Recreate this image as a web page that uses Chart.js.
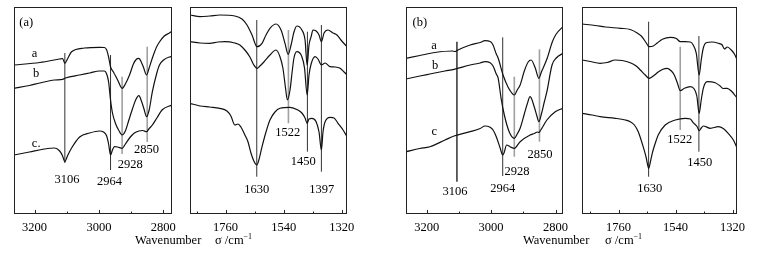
<!DOCTYPE html>
<html><head><meta charset="utf-8">
<script src="https://cdn.jsdelivr.net/npm/chart.js@4.4.1/dist/chart.umd.min.js"></script>
<style>
html,body{margin:0;padding:0;background:#fff;}
body{width:759px;height:254px;position:relative;overflow:hidden;font-family:'Liberation Serif','Times New Roman',serif;}
canvas{position:absolute;top:0;}
.t{position:absolute;font-size:12.5px;color:#000;white-space:nowrap;line-height:1;}
.t .s{font-size:8px;position:relative;top:-5px;}
</style></head><body>
<canvas id="c1"></canvas><canvas id="c2"></canvas><canvas id="c3"></canvas><canvas id="c4"></canvas>
<div class="t" style="left:135px;top:234px">Wavenumber</div>
<div class="t" style="left:215px;top:234px">σ /cm<span class="s">−1</span></div>
<div class="t" style="left:523px;top:234px">Wavenumber</div>
<div class="t" style="left:605px;top:234px">σ /cm<span class="s">−1</span></div>
<script>
// ---------- DATA (wavenumber cm-1, relative intensity, arbitrary units) ----------
// Panel (a), high-wavenumber region
const aHigh_a = [[3264,149],[3184,151.5],[3122,155],[3113,155.5],[3106,150.7],[3098,155],[3085,162.3],[3045,166],[2998,166.7],[2983,166.5],[2976,164],[2970,157],[2964,147],[2955,142],[2942,134],[2928,125.7],[2918,130],[2905,139],[2893,150],[2883,155],[2876,155.7],[2870,153],[2862,147],[2852,139],[2844,146],[2834,156],[2821,167],[2812,172],[2797,178],[2781,181],[2773,183]];
const aHigh_b = [[3264,125.7],[3216,128.5],[3184,131],[3138,134],[3113,134.7],[3104,136],[3060,139],[3029,141],[2998,143],[2983,143],[2976,140],[2970,132],[2964,114],[2958,101],[2948,90],[2939,84],[2928,79],[2918,83],[2908,93],[2896,105],[2886,114],[2876,118.3],[2868,113],[2860,105],[2852,97.3],[2844,104],[2834,122.3],[2821,140],[2812,149],[2799,154],[2781,157],[2773,157.5]];
const aHigh_c = [[3264,59],[3216,62],[3169,65],[3138,66],[3122,63],[3113,58],[3106,52.3],[3098,58],[3085,66],[3060,77],[3029,81],[2998,83],[2986,82],[2976,78],[2970,70],[2964,59],[2958,64],[2952,67.3],[2942,67],[2928,65.7],[2918,70],[2905,76],[2890,81],[2876,83],[2864,83.5],[2852,82.3],[2845,85],[2834,89],[2820,96],[2804,104],[2773,109]];
// Panel (a), low-wavenumber region
const aLow_a = [[1895,199],[1857,197.3],[1820,198],[1782,199],[1725,198],[1698,195],[1679,189],[1660,179],[1641,167.3],[1622,170.7],[1607,179],[1592,185.7],[1569,190],[1550,184],[1535,170.7],[1523,159.7],[1512,169],[1501,182],[1490,188],[1471,184],[1459,174],[1451,149],[1444,169],[1436,177.3],[1429,184],[1417,183],[1406,179],[1397,172.3],[1387,181],[1372,184],[1353,181],[1338,179],[1323,174],[1300,167.3]];
const aLow_b = [[1895,172.3],[1857,171],[1820,170.7],[1789,172],[1763,172.3],[1725,171],[1706,169],[1687,164],[1668,157],[1653,149],[1641,145.7],[1630,148],[1615,152],[1592,159],[1569,164],[1554,157.3],[1543,146],[1533,126],[1526,114],[1516,124],[1508,142],[1501,156],[1490,162.3],[1471,157.3],[1461,146],[1451,119],[1444,139],[1436,150],[1421,157.3],[1410,155],[1397,149],[1383,151],[1364,147.3],[1345,147],[1326,145.7],[1311,142],[1300,139]];
const aLow_c = [[1895,110.7],[1857,108],[1820,107],[1782,105.7],[1755,103],[1740,98],[1725,89],[1713,90],[1702,87],[1687,79],[1675,72],[1664,61],[1653,53],[1642,49],[1634,54],[1622,67.3],[1607,82],[1592,94],[1573,102],[1554,105.7],[1516,106.7],[1486,104],[1471,101],[1459,96],[1451,90.7],[1444,95],[1433,95.7],[1417,92.3],[1406,82],[1397,64],[1391,82],[1383,92.3],[1364,96.7],[1349,96],[1334,90.7],[1315,84],[1300,77.3]];
// Panel (b), high-wavenumber region
const bHigh_a = [[3264,155.7],[3221,158.5],[3174,161.5],[3121,163],[3112,162.5],[3103,164],[3065,169],[3034,171.5],[3019,173.3],[3003,172.5],[2994,169],[2984,160],[2978,155.7],[2963,139],[2948,127.3],[2938,122],[2928,119],[2919,124],[2910,129],[2897,143],[2885,152],[2876,154],[2863,146],[2852,135.7],[2844,142],[2826,155.7],[2810,172.3],[2798,180],[2777,187.3]];
const bHigh_b = [[3264,135],[3221,138],[3190,140],[3143,143],[3115,144.7],[3065,149],[3034,151],[3019,152.3],[3003,151.3],[2994,148],[2984,140],[2978,135.7],[2969,115.7],[2959,99],[2944,82.3],[2928,75.7],[2919,80],[2910,85.7],[2897,100],[2888,110],[2879,117.3],[2866,107],[2858,98],[2852,92.3],[2844,100],[2835,112],[2827,122.3],[2811,149],[2798,156],[2777,160.7]];
const bHigh_c = [[3264,62.3],[3221,65.5],[3190,67.3],[3143,74],[3115,78],[3065,82.3],[3034,85.5],[3019,88],[3003,86.7],[2994,84],[2984,77.3],[2972,66],[2964,59],[2960,61],[2952,69],[2940,67],[2928,65.7],[2910,72.3],[2879,79],[2866,80.5],[2856,82],[2852,81.5],[2846,84],[2827,94],[2801,102.3],[2777,105.7]];
// Panel (b), low-wavenumber region
const bLow_a = [[1900,190],[1850,188.5],[1811,187],[1753,185.7],[1715,184.5],[1688,181],[1669,177],[1653,171],[1642,167.3],[1626,168],[1611,171],[1591,174.7],[1560,176.7],[1537,175.5],[1522,172.3],[1503,172.3],[1483,172],[1472,169],[1460,160.7],[1449,139],[1441,154],[1433,166],[1422,171.3],[1399,172],[1375,170.7],[1360,169],[1352,165],[1340,167],[1325,164],[1313,160],[1302,154]];
const bLow_b = [[1900,154],[1869,152.5],[1831,150.7],[1804,151.5],[1773,154],[1746,153.5],[1715,151.3],[1692,148],[1676,144],[1657,139],[1642,135.7],[1626,138],[1607,142],[1591,144.5],[1572,145.7],[1556,143],[1545,139],[1533,131],[1522,123.3],[1506,125.7],[1483,127.3],[1468,125],[1458,118],[1449,100.7],[1441,114],[1433,125.7],[1418,132.3],[1387,131.3],[1368,128],[1356,125.5],[1341,125.7],[1325,123],[1302,115.7]];
const bLow_c = [[1900,100.7],[1862,99],[1831,97.3],[1773,95.7],[1734,94],[1715,92.3],[1699,89],[1684,82.3],[1665,67.3],[1653,56],[1644,45.7],[1638,51],[1630,60.7],[1618,71],[1607,79],[1580,89],[1541,94],[1503,95.7],[1483,95],[1472,91.3],[1456,87],[1449,83.3],[1441,86],[1433,88],[1406,85.7],[1375,87.3],[1356,85.5],[1337,80.7],[1317,74],[1302,65.7]];
// Peak labels and the wavenumbers where their marker lines are drawn
const aHighPeakLabels = ['3106','2964','2928','2850'];
const aHighPeakPos    = [3106, 2964, 2928, 2850];
const aLowPeakLabels  = ['1630','1522','1450','1397'];
const aLowPeakPos     = [1642, 1522, 1450, 1397];
const bHighPeakLabels = ['3106','2964','2928','2850'];
const bHighPeakPos    = [3106, 2964, 2928, 2850];
const bLowPeakLabels  = ['1630','1522','1450'];
const bLowPeakPos     = [1644, 1522, 1450];
// Axis ticks (all tick marks) and the labelled (major) ticks
const highTickValues = [3200, 3100, 3000, 2900, 2800];
const highTickLabels = [3200, 3000, 2800];
const lowTickValues  = [1870, 1760, 1650, 1540, 1430, 1320];
const lowTickLabels  = [1760, 1540, 1320];

// ---------- LAYOUT / STYLE ----------
const FONT = '12.5px "Liberation Serif", "Times New Roman", serif';
const DARK = {color:'#333', width:1};
const GRAY = {color:'#a0a0a0', width:1.6};

const panels = [
  {id:'c1', left:14, right:172, tv:highTickValues, tl:highTickLabels, xmin:2773, xmax:3264,
   curves:[aHigh_a,aHigh_b,aHigh_c], labels:aHighPeakLabels, pos:aHighPeakPos,
   lines:[{top:161,bottom:51,st:DARK,lx:3099,ly:34},{top:159,bottom:44,st:DARK,lx:2967,ly:32.3},{top:137.3,bottom:60,st:GRAY,lx:2903,ly:49},{top:167.3,bottom:72,st:GRAY,lx:2852,ly:64}],
   texts:[{t:'(a)',x:3226,y:191.3},{t:'a',x:3200,y:160},{t:'b',x:3195,y:140},{t:'c.',x:3195,y:70.7}]},
  {id:'c2', left:190, right:347, tv:lowTickValues, tl:lowTickLabels, xmin:1300, xmax:1895,
   curves:[aLow_a,aLow_b,aLow_c], labels:aLowPeakLabels, pos:aLowPeakPos,
   lines:[{top:194,bottom:37.3,st:DARK,lx:1642,ly:24},{top:184,bottom:90.7,st:GRAY,lx:1525,ly:81.3},{top:182.3,bottom:62.3,st:DARK,lx:1466,ly:52.3},{top:189,bottom:42.3,st:DARK,lx:1396,ly:24}],
   texts:[]},
  {id:'c3', left:406, right:563, tv:highTickValues, tl:highTickLabels, xmin:2777, xmax:3264,
   curves:[bHigh_a,bHigh_b,bHigh_c], labels:bHighPeakLabels, pos:bHighPeakPos,
   lines:[{top:172.3,bottom:32.3,st:{color:'#111',width:1.3},lx:3112,ly:22.3},{top:176.7,bottom:38,st:DARK,lx:2964,ly:25.7},{top:137.3,bottom:57.3,st:GRAY,lx:2920,ly:42.3},{top:164.7,bottom:72.3,st:GRAY,lx:2848,ly:59}],
   texts:[{t:'(b)',x:3221,y:191.3},{t:'a',x:3177,y:168},{t:'b',x:3174,y:148.7},{t:'c',x:3176,y:82.3}]},
  {id:'c4', left:582, right:737, tv:lowTickValues, tl:lowTickLabels, xmin:1303, xmax:1901,
   curves:[bLow_a,bLow_b,bLow_c], labels:bLowPeakLabels, pos:bLowPeakPos,
   lines:[{top:192.3,bottom:37.3,st:DARK,lx:1640,ly:25.7},{top:167.3,bottom:84,st:GRAY,lx:1524,ly:74.7},{top:178,bottom:62.3,st:DARK,lx:1447,ly:51.3}],
   texts:[]}
];

const PAD = 20, TOP = 7, BOTTOM = 214, H = 254;

function decoPlugin(p) {
  return {
    id: 'deco',
    beforeDatasetsDraw(chart) {
      const {ctx, scales:{x, y}} = chart;
      p.lines.forEach((l, i) => {
        ctx.save();
        ctx.strokeStyle = l.st.color; ctx.lineWidth = l.st.width;
        const px = x.getPixelForValue(p.pos[i]);
        ctx.beginPath();
        ctx.moveTo(px, y.getPixelForValue(l.top));
        ctx.lineTo(px, y.getPixelForValue(l.bottom));
        ctx.stroke(); ctx.restore();
      });
    },
    afterDatasetsDraw(chart) {
      const {ctx, chartArea:a, scales:{x, y}} = chart;
      ctx.save();
      ctx.strokeStyle = '#222'; ctx.lineWidth = 1;
      ctx.strokeRect(Math.round(a.left) + 0.5, Math.round(a.top) + 0.5, Math.round(a.right - a.left) - 1, Math.round(a.bottom - a.top) - 1);
      x.ticks.forEach(t => {
        const len = p.tl.includes(t.value) ? 4 : 2.5;
        const px = Math.round(x.getPixelForValue(t.value)) + 0.5;
        ctx.beginPath(); ctx.moveTo(px, a.bottom); ctx.lineTo(px, a.bottom - len); ctx.stroke();
      });
      ctx.fillStyle = '#000'; ctx.font = FONT;
      ctx.textAlign = 'center'; ctx.textBaseline = 'middle';
      p.lines.forEach((l, i) => ctx.fillText(p.labels[i], x.getPixelForValue(l.lx), y.getPixelForValue(l.ly)));
      p.texts.forEach(t => ctx.fillText(t.t, x.getPixelForValue(t.x), y.getPixelForValue(t.y)));
      ctx.restore();
    }
  };
}

panels.forEach(p => {
  const cv = document.getElementById(p.id);
  const w = (p.right - p.left) + 2 * PAD;
  cv.width = w; cv.height = H;
  cv.style.left = (p.left - PAD) + 'px';
  cv.style.width = w + 'px'; cv.style.height = H + 'px';
  new Chart(cv, {
    type: 'line',
    data: {
      datasets: p.curves.map(c => ({
        data: c.map(([wx, wy]) => ({x: wx, y: wy})),
        borderColor: '#111', borderWidth: 1.2, pointRadius: 0,
        cubicInterpolationMode: 'monotone', fill: false
      }))
    },
    options: {
      responsive: false, animation: false, devicePixelRatio: 1,
      layout: {padding: {left: PAD, right: PAD, top: TOP, bottom: 0}},
      plugins: {legend: {display: false}, tooltip: {enabled: false}},
      events: [],
      scales: {
        x: {
          type: 'linear', reverse: true, min: p.xmin, max: p.xmax,
          grid: {display: false, drawTicks: false}, border: {display: false},
          afterBuildTicks: s => { s.ticks = p.tv.map(v => ({value: v})); },
          ticks: {
            autoSkip: false, maxRotation: 0, minRotation: 0,
            color: '#000', font: {family: '"Liberation Serif", "Times New Roman", serif', size: 12.5}, padding: 6,
            callback: v => (p.tl.includes(v) ? String(v) : '')
          },
          afterFit: s => { s.height = H - BOTTOM; }
        },
        y: {type: 'linear', display: false, min: 0, max: BOTTOM - TOP}
      }
    },
    plugins: [decoPlugin(p)]
  });
});
</script>
</body></html>
